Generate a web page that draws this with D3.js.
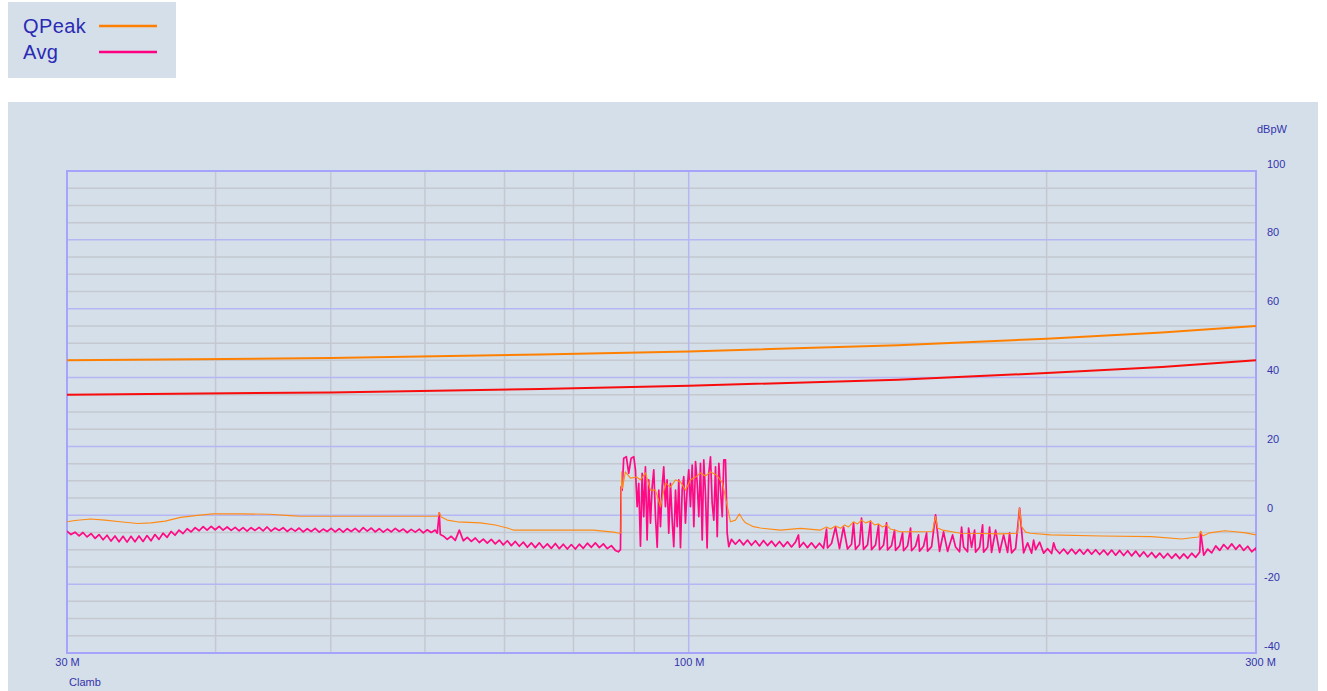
<!DOCTYPE html>
<html>
<head>
<meta charset="utf-8">
<script src="https://cdn.jsdelivr.net/npm/d3@7"></script>
<style>
  html, body { margin: 0; padding: 0; background: #fff; }
  svg { display: block; }
</style>
</head>
<body>
<svg id="chart" width="1327" height="691"></svg>
<script>
// ── axis values ──
const dbMajor = [-40, -20, 0, 20, 40, 60, 80, 100];
const dbMinor = [-35, -30, -25, -15, -10, -5, 5, 10, 15, 25, 30, 35, 45, 50, 55, 65, 70, 75, 85, 90, 95];
const freqGrid = [40, 50, 60, 70, 80, 90, 200];
const freqMajor = [100];
const freqTicks = [30, 100, 300];
const freqLabels = ['30 M', '100 M', '300 M'];

// ── limit lines [MHz, dBpW] ──
const qpLimit = [[30, 45], [50, 45.7], [75, 46.7], [100, 47.6], [150, 49.4], [200, 51.3], [250, 53.1], [300, 55]];
const avgLimit = [[30, 35], [50, 35.7], [75, 36.7], [100, 37.6], [150, 39.4], [200, 41.3], [250, 43.1], [300, 45]];

// ── QPeak trace [MHz, dBpW] ──
const qpTrace = [
  [30.00,-1.9],[30.47,-1.5],[31.39,-1.1],[32.30,-1.4],[33.24,-1.9],[34.41,-2.4],[35.30,-2.2],[36.28,-1.7],
  [37.38,-0.6],[38.45,-0.1],[39.78,0.4],[42.03,0.4],[44.37,0.3],[46.22,-0.1],[47.12,-0.3],[51.92,-0.3],
  [57.31,-0.3],[61.33,-0.3],[61.57,-0.2],[61.69,0.8],[61.93,-0.5],[62.65,-1.4],[63.88,-1.9],[66.81,-2.2],
  [68.76,-2.8],[70.38,-3.7],[71.20,-4.3],[83.14,-4.3],[86.43,-4.9],[87.45,-5.2],[87.72,-5.0],[87.84,12.6],
  [87.96,7.9],[88.46,12.6],[89.33,10.8],[90.38,11.1],[91.08,10.3],[91.96,12.3],[92.86,7.3],[93.77,7.3],
  [94.68,2.4],[95.59,9.4],[96.53,8.2],[97.48,10.3],[98.42,9.7],[99.37,7.3],[100.34,10.3],[101.33,11.1],
  [102.31,12.3],[103.30,11.4],[104.31,12.6],[105.54,11.7],[106.77,9.4],[107.79,2.4],[108.43,-1.9],[109.47,-1.4],
  [110.33,0.4],[110.97,-1.1],[111.62,-2.2],[113.36,-3.3],[114.91,-3.7],[119.45,-4.3],[124.17,-3.8],[129.07,-4.3],
  [130.59,-3.4],[131.61,-4.0],[132.88,-3.1],[134.18,-3.8],[135.22,-2.8],[136.28,-3.4],[137.60,-1.9],[138.67,-2.5],
  [139.75,-1.4],[140.84,-2.2],[142.20,-1.7],[143.31,-2.8],[144.43,-2.5],[145.55,-3.4],[146.69,-2.8],[147.82,-4.0],
  [150.72,-4.8],[156.68,-4.8],[160.36,-4.7],[161.29,-0.4],[161.92,-3.7],[163.49,-4.3],[169.30,-5.2],[175.99,-5.3],
  [182.94,-5.4],[189.07,-5.2],[189.80,2.0],[190.54,-3.3],[192.03,-4.9],[193.89,-5.2],[201.56,-5.7],[222.49,-6.0],
  [245.12,-6.2],[259.79,-6.9],[266.93,-6.4],[268.49,-6.3],[269.53,-4.6],[270.57,-6.0],[274.28,-5.1],[282.35,-4.5],
  [288.44,-4.8],[294.09,-5.1],[300.00,-5.7]
];

// ── Avg trace [MHz, dBpW] ──
const avgTrace = [
  [30.00,-4.6],[30.23,-5.6],[30.47,-4.9],[30.71,-6.0],[30.94,-5.0],[31.19,-6.3],[31.43,-5.3],[31.68,-6.7],
  [31.92,-5.6],[32.17,-7.1],[32.42,-5.8],[32.67,-7.5],[32.92,-6.0],[33.18,-7.7],[33.44,-6.1],[33.70,-7.8],
  [33.96,-6.1],[34.22,-7.7],[34.49,-6.0],[34.76,-7.6],[35.03,-5.9],[35.30,-7.4],[35.57,-5.6],[35.85,-7.0],
  [36.13,-5.2],[36.42,-6.4],[36.70,-4.7],[36.98,-5.8],[37.27,-4.3],[37.56,-5.3],[37.86,-3.9],[38.15,-4.8],
  [38.45,-3.6],[38.75,-4.5],[39.05,-3.3],[39.35,-4.3],[39.66,-3.2],[39.97,-4.2],[40.28,-3.2],[40.59,-4.3],
  [40.91,-3.4],[41.23,-4.4],[41.55,-3.5],[41.87,-4.5],[42.19,-3.6],[42.52,-4.6],[42.85,-3.6],[43.18,-4.4],
  [43.52,-3.5],[43.86,-4.5],[44.20,-3.4],[44.54,-4.6],[44.89,-3.7],[45.24,-4.4],[45.59,-3.6],[45.95,-4.7],
  [46.31,-3.8],[46.67,-4.6],[47.03,-3.7],[47.40,-4.8],[47.77,-3.9],[48.14,-4.7],[48.51,-3.8],[48.89,-4.9],
  [49.27,-4.0],[49.65,-4.7],[50.04,-3.8],[50.43,-4.8],[50.82,-3.9],[51.22,-4.9],[51.62,-3.9],[52.02,-4.7],
  [52.42,-3.8],[52.83,-4.8],[53.24,-3.6],[53.66,-4.6],[54.08,-3.7],[54.50,-4.8],[54.92,-3.9],[55.35,-4.9],
  [55.78,-4.0],[56.21,-4.8],[56.65,-3.8],[57.09,-4.7],[57.54,-4.0],[57.98,-5.0],[58.43,-4.1],[58.89,-4.9],
  [59.35,-4.0],[59.81,-5.1],[60.27,-4.2],[60.74,-5.0],[61.21,-4.3],[61.45,-5.2],[61.69,0.7],[61.81,-5.6],
  [62.17,-6.0],[62.65,-7.0],[63.14,-6.1],[63.63,-7.3],[64.13,-4.3],[64.63,-7.4],[65.13,-6.4],[65.64,-7.6],
  [66.15,-6.6],[66.66,-7.9],[67.18,-6.9],[67.70,-8.1],[68.23,-7.0],[68.76,-8.3],[69.29,-7.2],[69.83,-8.6],
  [70.38,-7.4],[70.93,-8.8],[71.48,-7.6],[72.03,-9.0],[72.60,-7.8],[73.16,-9.3],[73.73,-8.0],[74.30,-9.4],
  [74.88,-8.0],[75.46,-9.5],[76.05,-8.3],[76.64,-9.6],[77.24,-8.2],[77.84,-9.7],[78.44,-8.4],[79.05,-9.8],
  [79.67,-8.5],[80.29,-9.8],[80.91,-8.4],[81.54,-9.6],[82.18,-8.1],[82.82,-9.3],[83.46,-8.0],[84.11,-9.4],
  [84.77,-8.3],[85.42,-9.7],[86.09,-8.8],[86.76,-10.2],[87.27,-10.6],[87.62,-10.0],
  [87.74,8.3],[87.91,7.3],[88.17,16.6],[88.63,17.0],[89.03,12.2],[89.45,16.6],[89.91,17.0],[90.20,13.2],
  [90.50,2.5],[90.78,9.3],[91.08,-9.0],[91.38,12.2],[91.66,-0.4],[91.96,14.1],[92.26,-7.2],[92.55,10.3],
  [92.86,-2.3],[93.17,8.3],[93.46,13.2],[93.77,-0.4],[94.08,-9.3],[94.37,7.3],[94.68,-3.3],[94.99,8.3],
  [95.28,14.1],[95.59,2.5],[95.90,10.3],[96.21,-5.2],[96.53,9.3],[96.85,-1.4],[97.15,-9.1],[97.48,7.3],
  [97.80,-3.3],[98.10,10.3],[98.42,-9.4],[98.74,7.3],[99.05,11.2],[99.37,-2.3],[99.69,7.3],[100.01,13.2],
  [100.34,2.5],[100.68,14.6],[101.00,-3.3],[101.33,15.6],[101.66,9.3],[101.98,-0.4],[102.31,15.1],[102.65,-7.2],
  [102.96,16.1],[103.30,6.4],[103.63,-9.5],[103.96,12.2],[104.31,17.0],[104.65,3.5],[104.98,-1.4],[105.33,14.1],
  [105.68,-6.2],[106.01,15.1],[106.36,7.3],[106.71,-0.4],[107.03,16.1],[107.38,16.1],[107.59,4.4],[107.73,-5.2],
  [108.07,-9.1],
  [108.63,-7.0],[109.47,-8.4],[110.33,-7.1],[111.19,-8.6],[112.05,-7.2],[112.92,-8.7],[113.80,-7.4],[114.69,-8.9],
  [115.58,-7.3],[116.48,-8.8],[117.39,-7.5],[118.30,-9.0],[119.22,-7.6],[120.15,-9.1],[121.08,-7.7],[122.02,-9.2],
  [122.97,-7.8],[123.69,-5.7],[123.93,-9.3],[124.89,-7.9],[125.86,-9.4],[126.84,-8.0],[127.83,-9.5],[128.82,-8.1],
  [129.83,-9.6],[130.59,-4.0],[130.84,-9.5],[131.86,-8.2],[132.88,-3.4],[133.92,-9.7],[134.96,-3.4],[136.01,-9.8],
  [137.07,-8.4],[137.60,-2.2],[138.13,-9.9],[139.21,-8.5],[139.75,-0.8],[140.29,-9.9],[141.38,-8.6],[142.20,-1.7],
  [142.48,-10.0],[143.59,-8.6],[144.43,-2.8],[144.71,-10.0],[145.83,-8.7],[146.69,-2.2],[146.97,-10.1],[148.11,-8.8],
  [148.98,-4.3],[149.27,-10.2],[150.43,-8.9],[151.31,-5.1],[151.60,-10.3],[152.78,-8.9],[153.67,-3.7],[153.97,-10.3],
  [155.16,-9.0],[156.06,-5.7],[156.37,-10.4],[157.59,-9.0],[158.51,-5.1],[158.81,-10.4],[160.05,-9.1],[161.29,0.1],
  [162.55,-10.5],[163.81,-4.8],[165.09,-10.5],[166.70,-5.7],[167.67,-9.2],[168.97,-10.6],[169.63,-3.4],[170.29,-9.2],
  [171.61,-10.6],[171.95,-3.7],[172.95,-9.3],[173.96,-4.3],[174.29,-10.7],[175.65,-9.3],[176.68,-2.8],[177.02,-10.7],
  [178.39,-9.3],[179.08,-3.4],[179.78,-10.8],[181.18,-4.3],[182.59,-10.8],[184.01,-5.7],[185.44,-10.8],[186.16,-5.1],
  [186.88,-10.9],[188.34,-9.6],[189.80,2.1],[191.28,-10.9],[192.77,-8.0],[194.27,-11.0],[195.02,-7.2],[195.78,-10.0],
  [197.30,-7.8],[198.84,-11.0],[200.39,-9.7],[201.95,-11.1],[202.73,-8.0],[203.52,-9.8],[205.10,-11.1],[206.70,-9.8],
  [208.31,-11.2],[209.93,-9.8],[211.56,-11.2],[213.21,-9.9],[214.87,-11.3],[216.54,-9.9],[218.22,-11.3],[219.92,-10.0],
  [221.63,-11.4],[223.36,-10.1],[225.09,-11.5],[226.84,-10.1],[228.61,-11.6],[230.39,-10.2],[232.18,-11.7],[233.99,-10.3],
  [235.81,-11.8],[237.64,-10.4],[239.49,-12.0],[241.35,-10.6],[243.23,-12.1],[245.12,-10.8],[247.03,-12.3],[248.95,-11.0],
  [250.89,-12.4],[252.84,-11.1],[254.81,-12.5],[256.79,-11.2],[258.79,-12.6],[260.80,-11.2],[262.83,-12.5],[264.87,-11.0],
  [266.93,-12.2],[269.01,-10.7],[269.53,-4.9],[271.10,-11.6],[273.22,-9.8],[275.34,-10.9],[277.48,-8.9],[279.64,-10.2],
  [281.81,-8.5],[284.01,-9.8],[286.22,-8.3],[288.44,-9.9],[290.68,-8.6],[292.94,-10.2],[295.24,-9.0],[297.53,-10.6],
  [299.84,-9.5],[300.00,-10.3]
];

const legendItems = [
  { label: 'QPeak', color: '#ff8000' },
  { label: 'Avg',   color: '#ff0080' },
];

// ── layout ──
const BG = '#d4dfea';
const TXT = '#3434aa';
const FONT = '"Liberation Sans", Arial, sans-serif';
const plot = { left: 67, right: 1256, top: 171, bottom: 653 };

const svg = d3.select('#chart');

const x = d3.scaleLog([30, 300], [plot.left, plot.right]);
const y = d3.scaleLinear([-40, 100], [plot.bottom, plot.top]);

// panels
svg.append('rect').attr('x', 8).attr('y', 2).attr('width', 168).attr('height', 76).attr('fill', BG);
svg.append('rect').attr('x', 8).attr('y', 102).attr('width', 1310).attr('height', 589).attr('fill', BG);

// grid
const grid = svg.append('g');
grid.selectAll('.hmin').data(dbMinor).join('line')
  .attr('x1', plot.left).attr('x2', plot.right)
  .attr('y1', d => y(d)).attr('y2', d => y(d))
  .attr('stroke', '#c5c8cf').attr('stroke-width', 1.5);
grid.selectAll('.vmin').data(freqGrid).join('line')
  .attr('x1', d => x(d)).attr('x2', d => x(d))
  .attr('y1', plot.top).attr('y2', plot.bottom)
  .attr('stroke', '#c5c8cf').attr('stroke-width', 1.5);
grid.selectAll('.hmaj').data(dbMajor).join('line')
  .attr('x1', plot.left).attr('x2', plot.right)
  .attr('y1', d => y(d)).attr('y2', d => y(d))
  .attr('stroke', '#b6b6f4').attr('stroke-width', 1.5);
grid.selectAll('.vmaj').data(freqMajor).join('line')
  .attr('x1', d => x(d)).attr('x2', d => x(d))
  .attr('y1', plot.top).attr('y2', plot.bottom)
  .attr('stroke', '#b6b6f4').attr('stroke-width', 1.5);

svg.append('rect')
  .attr('x', plot.left).attr('y', plot.top)
  .attr('width', plot.right - plot.left).attr('height', plot.bottom - plot.top)
  .attr('fill', 'none').attr('stroke', '#a4a4fa').attr('stroke-width', 2);

// clip for traces
svg.append('clipPath').attr('id', 'clip').append('rect')
  .attr('x', plot.left).attr('y', plot.top)
  .attr('width', plot.right - plot.left).attr('height', plot.bottom - plot.top);

const line = d3.line().x(d => x(d[0])).y(d => y(d[1]));
const traces = svg.append('g').attr('clip-path', 'url(#clip)');

traces.append('path').datum(qpLimit).attr('d', line)
  .attr('fill', 'none').attr('stroke', '#ff8000').attr('stroke-width', 2);
traces.append('path').datum(avgLimit).attr('d', line)
  .attr('fill', 'none').attr('stroke', '#f80c0c').attr('stroke-width', 2);
traces.append('path').datum(avgTrace).attr('d', line)
  .attr('fill', 'none').attr('stroke', '#ff0a84').attr('stroke-width', 1.7)
  .attr('stroke-linejoin', 'round');
traces.append('path').datum(qpTrace).attr('d', line)
  .attr('fill', 'none').attr('stroke', '#ff8a14').attr('stroke-width', 1.1)
  .attr('stroke-linejoin', 'round');

// y axis labels (right side)
const yAxis = svg.append('g')
  .attr('transform', `translate(${plot.right},0)`)
  .call(d3.axisRight(y).tickValues(dbMajor).tickFormat(d => String(d)).tickSize(0).tickPadding(11));
yAxis.select('.domain').remove();
yAxis.selectAll('text')
  .attr('dy', null).attr('y', -4)
  .attr('dx', d => d < 0 ? -3 : 0)
  .attr('fill', TXT).attr('font-family', FONT).attr('font-size', 11);

svg.append('text')
  .attr('x', 1257).attr('y', 133)
  .attr('fill', TXT).attr('font-family', FONT).attr('font-size', 11)
  .text('dBpW');

// x axis labels
const xAxis = svg.append('g')
  .attr('transform', `translate(0,${plot.bottom})`)
  .call(d3.axisBottom(x).tickValues(freqTicks).tickFormat((d, i) => freqLabels[i]).tickSize(0).tickPadding(5));
xAxis.select('.domain').remove();
xAxis.selectAll('text')
  .attr('dx', d => d === 300 ? 4 : 0)
  .attr('fill', TXT).attr('font-family', FONT).attr('font-size', 11);

svg.append('text')
  .attr('x', 69).attr('y', 686)
  .attr('fill', TXT).attr('font-family', FONT).attr('font-size', 11)
  .text('Clamb');

// legend
const lg = svg.append('g');
legendItems.forEach((d, i) => {
  const ly = 26 + i * 26;
  lg.append('text')
    .attr('x', 23).attr('y', ly + 7)
    .attr('fill', '#2a2ab4').attr('font-family', FONT).attr('font-size', 20)
    .attr('letter-spacing', '0.4px')
    .text(d.label);
  lg.append('line')
    .attr('x1', 99).attr('x2', 157).attr('y1', ly).attr('y2', ly)
    .attr('stroke', d.color).attr('stroke-width', 2.5);
});
</script>
</body>
</html>
